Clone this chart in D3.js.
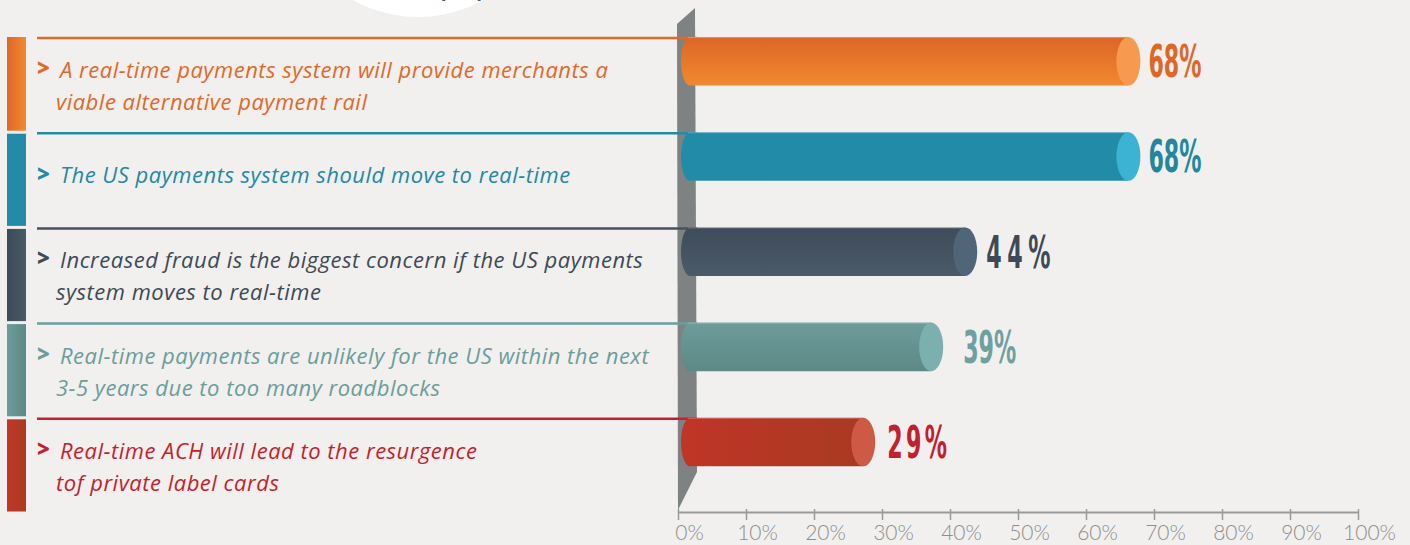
<!DOCTYPE html>
<html>
<head>
<meta charset="utf-8">
<script src="https://cdn.jsdelivr.net/npm/d3@7"></script>
<style>
  html, body { margin: 0; padding: 0; background: #f1f0ee; }
  svg { display: block; }
</style>
</head>
<body>
<svg id="chart" width="1410" height="545"></svg>
<script>
// ---------------- DATA ----------------
const categories = [
  "A real-time payments system will provide merchants a viable alternative payment rail",
  "The US payments system should move to real-time",
  "Increased fraud is the biggest concern if the US payments system moves to real-time",
  "Real-time payments are unlikely for the US within the next 3-5 years due to too many roadblocks",
  "Real-time ACH will lead to the resurgence tof private label cards"
];
const labelLines = [
  ["A real-time payments system will provide merchants a", "viable alternative payment rail"],
  ["The US payments system should move to real-time"],
  ["Increased fraud is the biggest concern if the US payments", "system moves to real-time"],
  ["Real-time payments are unlikely for the US within the next", "3-5 years due to too many roadblocks"],
  ["Real-time ACH will lead to the resurgence", "tof private label cards"]
];
const values = [68, 68, 44, 39, 29];
const valueLabels = ["68%", "68%", "44%", "39%", "29%"];
const xTicks = [0, 10, 20, 30, 40, 50, 60, 70, 80, 90, 100];

// ---------------- STYLE ----------------
const textColors  = ["#e0692a", "#2389a6", "#3e4a56", "#6b9d9b", "#c41f2c"];
const lineColors  = ["#e0692a", "#238ba8", "#45525e", "#6b9e9c", "#c8202d"];
const stripFrom   = ["#df6629", "#238ba8", "#3d4a57", "#6c9c9b", "#c13628"];
const stripTo     = ["#f2892f", "#238ba8", "#4a5a68", "#5d8986", "#a93b22"];
const barTop      = ["#dc6626", "#228ba8", "#3f4c59", "#6d9c9b", "#c03527"];
const barBottom   = ["#f28830", "#228ba8", "#4a5a69", "#5d8885", "#a83a22"];
const barDir      = ["v", "v", "v", "v", "h"];
const capColors   = ["#f7994e", "#3cb3d2", "#506578", "#7cb0ae", "#cd5a45"];
const valueColors = ["#dd6727", "#23869f", "#3d4a57", "#6fa0a0", "#c2202c"];
const valueGap    = [8, 8, 9, 20, 12];
const valueSpace  = [0, 0, 10, 0, 6];

const svg = d3.select("#chart");
const W = 1410, H = 545;

svg.append("rect").attr("width", W).attr("height", H).attr("fill", "#f1f0ee");

// decorative title circle at top
svg.append("circle").attr("cx", 418).attr("cy", -116).attr("r", 133).attr("fill", "#ffffff");
svg.append("text").attr("x", 440).attr("y", -5)
  .attr("font-family", "Lato, 'Open Sans', sans-serif").attr("font-size", 32)
  .attr("fill", "#555").text("payments");

// scales
const x = d3.scaleLinear().domain([0, 100]).range([678, 1358]);
const y = d3.scaleBand().domain(d3.range(categories.length)).range([37, 513]);
const bh = y.bandwidth() * 0.51;

// gradients
const defs = svg.append("defs");
categories.forEach((c, i) => {
  const g1 = defs.append("linearGradient").attr("id", "strip" + i)
    .attr("x1", 0).attr("x2", 1).attr("y1", 0).attr("y2", 0);
  g1.append("stop").attr("offset", "0%").attr("stop-color", stripFrom[i]);
  g1.append("stop").attr("offset", "100%").attr("stop-color", stripTo[i]);
  const g2 = defs.append("linearGradient").attr("id", "bar" + i)
    .attr("x1", 0).attr("y1", 0)
    .attr("x2", barDir[i] === "h" ? 1 : 0).attr("y2", barDir[i] === "h" ? 0 : 1);
  g2.append("stop").attr("offset", "0%").attr("stop-color", barTop[i]);
  g2.append("stop").attr("offset", "100%").attr("stop-color", barBottom[i]);
});

// left color strips
svg.append("g").selectAll("rect").data(categories).join("rect")
  .attr("x", 7).attr("width", 19)
  .attr("y", (d, i) => y(i) + (i === 0 ? 0 : 1.5))
  .attr("height", (d, i) => y.bandwidth() - (i === 0 ? 1.5 : 3))
  .attr("fill", (d, i) => `url(#strip${i})`);

// gray 3D wall behind bars
svg.append("path")
  .attr("d", `M${x(0) - 1},24 L${x(0) + 17},8 L${x(0) + 19},472 L${x(0)},510 Z`)
  .attr("fill", "#7e8283");

// divider lines
svg.append("g").selectAll("line").data(categories).join("line")
  .attr("x1", 37).attr("x2", x(0) + 19)
  .attr("y1", (d, i) => y(i) + 1).attr("y2", (d, i) => y(i) + 1)
  .attr("stroke", (d, i) => lineColors[i]).attr("stroke-width", 2.5);

// left labels
const lab = svg.append("g").selectAll("g").data(categories).join("g");
lab.append("text")
  .attr("x", 37)
  .attr("y", (d, i) => y(i) + (labelLines[i].length === 1 ? 50 : 39))
  .attr("font-family", "'Open Sans', sans-serif").attr("font-weight", 800)
  .attr("font-size", 22).attr("fill", (d, i) => textColors[i]).text(">");
lab.each(function (d, i) {
  const g = d3.select(this);
  labelLines[i].forEach((ln, k) => {
    g.append("text")
      .attr("x", k === 0 ? 60 : 56)
      .attr("y", y(i) + (labelLines[i].length === 1 ? 51 : 41 + k * 32))
      .attr("font-family", "'Open Sans', sans-serif")
      .attr("font-style", "italic").attr("font-size", 22)
      .attr("letter-spacing", 0.5)
      .attr("fill", textColors[i]).text(ln);
  });
});

// bars
const rxL = 9, rxC = 12;
const bars = svg.append("g").selectAll("g").data(values).join("g");
bars.append("path")
  .attr("d", (v, i) => {
    const t = y(i), b = y(i) + bh, x0 = x(0) + 3, x1 = x(v) - rxC;
    return `M${x1},${t} L${x0 + rxL},${t} A${rxL},${bh / 2} 0 0 0 ${x0 + rxL},${b} L${x1},${b} Z`;
  })
  .attr("fill", (v, i) => `url(#bar${i})`);
bars.append("line")
  .attr("x1", x(0) + 10).attr("x2", v => x(v) - rxC)
  .attr("y1", (v, i) => y(i) + 0.5).attr("y2", (v, i) => y(i) + 0.5)
  .attr("stroke", "#ffffff").attr("stroke-opacity", 0.25).attr("stroke-width", 1);
bars.append("ellipse")
  .attr("cx", v => x(v) - rxC).attr("cy", (v, i) => y(i) + bh / 2)
  .attr("rx", rxC).attr("ry", bh / 2)
  .attr("fill", (v, i) => capColors[i]);

// value labels
bars.append("text")
  .attr("transform", (v, i) => `translate(${x(v) + valueGap[i]},${y(i) + bh / 2 + 16}) scale(0.56,1)`)
  .attr("font-family", "'DejaVu Sans Condensed', 'DejaVu Sans', sans-serif")
  .attr("font-weight", 700).attr("font-size", 44)
  .attr("letter-spacing", (v, i) => valueSpace[i])
  .attr("fill", (v, i) => valueColors[i])
  .text((v, i) => valueLabels[i]);

// x axis
const axis = svg.append("g").attr("transform", "translate(0,512)")
  .call(d3.axisBottom(x).tickValues(xTicks).tickFormat(d => d + "%").tickSize(8).tickSizeOuter(0));
axis.select(".domain").attr("stroke", "#9a9a9a").attr("stroke-width", 2);
axis.selectAll(".tick line").attr("stroke", "#9a9a9a").attr("stroke-width", 1.5).attr("y1", -3);
axis.selectAll(".tick text")
  .attr("dx", 11).attr("y", 13)
  .attr("font-family", "Lato, 'Open Sans', sans-serif").attr("font-weight", 300)
  .attr("font-size", 21).attr("fill", "#8e8e8e");
</script>
</body>
</html>
